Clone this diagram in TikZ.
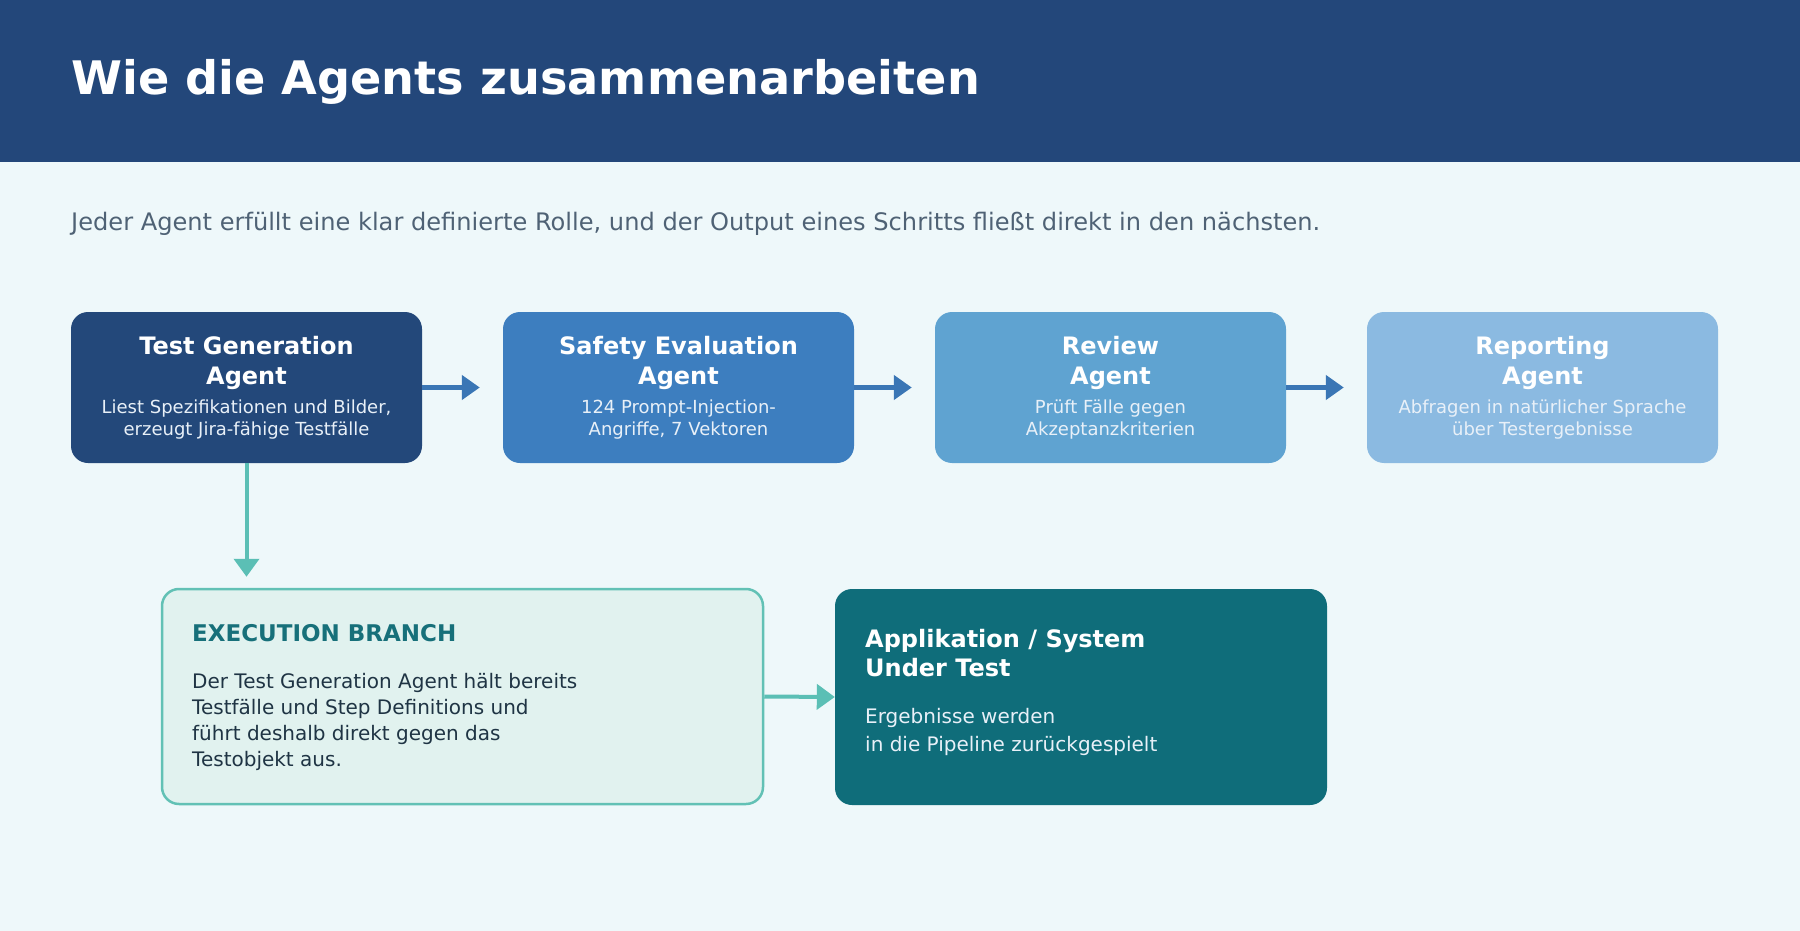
\documentclass[tikz,border=0pt]{standalone}
\usepackage{fontspec}
\setmainfont{DejaVu Sans}
\usetikzlibrary{arrows.meta}
\definecolor{bgc}{HTML}{EEF8FA}
\definecolor{headc}{HTML}{23477A}
\definecolor{subc}{HTML}{4F6275}
\definecolor{boxa}{HTML}{23487A}
\definecolor{boxb}{HTML}{3D7EBF}
\definecolor{boxc}{HTML}{5FA3D1}
\definecolor{boxd}{HTML}{8BBAE1}
\definecolor{arrblue}{HTML}{3A76B5}
\definecolor{teal}{HTML}{5BBFB5}
\definecolor{execfill}{HTML}{E1F2EF}
\definecolor{execborder}{HTML}{62C1B5}
\definecolor{exectitle}{HTML}{17707A}
\definecolor{execbody}{HTML}{1F3444}
\definecolor{appfill}{HTML}{0F6D7A}
\definecolor{desc}{HTML}{E8F0F8}
\tikzset{
  agentbox/.style={draw=none, rounded corners=17pt, minimum width=351pt, minimum height=151pt, inner sep=0pt},
  agenttitle/.style={anchor=base, inner sep=0pt, align=center, text=white, font=\fontsize{24}{30}\selectfont\bfseries},
  agentdesc/.style={anchor=base, inner sep=0pt, align=center, text=desc, font=\fontsize{18}{22}\selectfont},
  bluearrow/.style={draw=arrblue, line width=5pt, -{Triangle[length=18pt,width=24pt]}},
  tealarrow/.style={draw=teal, line width=4pt, -{Triangle[length=18pt,width=25pt]}},
  lefttext/.style={anchor=base west, inner sep=0pt, align=left}
}
\begin{document}
\begin{tikzpicture}[x=1pt,y=-1pt]
\useasboundingbox (0,0) rectangle (1800,931);
\fill[bgc] (0,0) rectangle (1800,931);
\fill[headc] (0,0) rectangle (1800,162);
\node[lefttext, text=white, font=\fontsize{46.2}{50}\selectfont\bfseries] (title) at (71,95) {Wie die Agents zusammenarbeiten};
\node[lefttext, text=subc, font=\fontsize{24.1}{28}\selectfont] (subtitle) at (71,230) {Jeder Agent erfüllt eine klar definierte Rolle, und der Output eines Schritts fließt direkt in den nächsten.};

% agent boxes
\node[agentbox, fill=boxa] (b1) at (246.5,387.5) {};
\node[agentbox, fill=boxb] (b2) at (678.5,387.5) {};
\node[agentbox, fill=boxc] (b3) at (1110.5,387.5) {};
\node[agentbox, fill=boxd] (b4) at (1542.5,387.5) {};

\node[agenttitle] (t1) at (246.5,384) {Test Generation\\Agent};
\node[agentdesc] (d1) at (246.5,435.5) {Liest Spezifikationen und Bilder,\\erzeugt Jira-fähige Testfälle};
\node[agenttitle] (t2) at (678.5,384) {Safety Evaluation\\Agent};
\node[agentdesc] (d2) at (678.5,435.5) {124 Prompt-Injection-\\Angriffe, 7 Vektoren};
\node[agenttitle] (t3) at (1110.5,384) {Review\\Agent};
\node[agentdesc] (d3) at (1110.5,435.5) {Prüft Fälle gegen\\Akzeptanzkriterien};
\node[agenttitle] (t4) at (1542.5,384) {Reporting\\Agent};
\node[agentdesc] (d4) at (1542.5,435.5) {Abfragen in natürlicher Sprache\\über Testergebnisse};

\draw[bluearrow, shorten >=23pt] (b1.east) -- (b2.west);
\draw[bluearrow, shorten >=23pt] (b2.east) -- (b3.west);
\draw[bluearrow, shorten >=23pt] (b3.east) -- (b4.west);

% lower row
\node[draw=execborder, line width=2.5pt, fill=execfill, rounded corners=17pt, minimum width=601pt, minimum height=215pt, inner sep=0pt] (exec) at (462.5,696.5) {};
\node[fill=appfill, rounded corners=17pt, minimum width=492pt, minimum height=216pt, inner sep=0pt] (app) at (1081,697) {};

\draw[tealarrow, shorten >=11pt] (b1.south) -- (b1.south |- exec.north);
\draw[tealarrow] (exec.east) -- (app.west);

\node[lefttext, text=exectitle, font=\fontsize{23}{28}\selectfont\bfseries] (et) at (192,641.5) {EXECUTION BRANCH};
\node[lefttext, text=execbody, font=\fontsize{20}{26}\selectfont] (eb) at (192,766) {Der Test Generation Agent hält bereits\\Testfälle und Step Definitions und\\führt deshalb direkt gegen das\\Testobjekt aus.};

\node[lefttext, text=white, font=\fontsize{24}{29.5}\selectfont\bfseries] (at) at (865,676.5) {Applikation / System\\Under Test};
\node[lefttext, text=desc, font=\fontsize{20}{27.5}\selectfont] (ab) at (865,751) {Ergebnisse werden\\in die Pipeline zurückgespielt};
\end{tikzpicture}
\end{document}
